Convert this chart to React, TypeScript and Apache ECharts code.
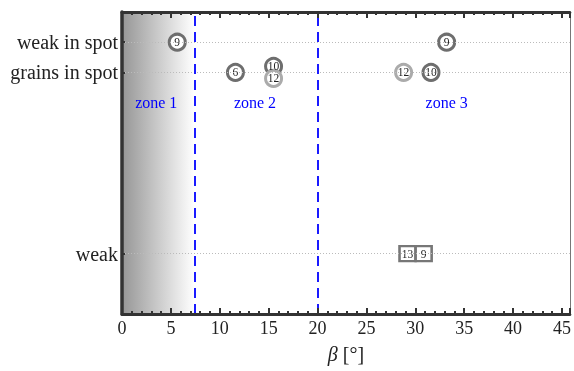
import React, { useEffect, useRef } from "react";
import * as echarts from "echarts";

const xMin = 0;
const xMax = 45.8;
const xInterval = 5;
const yMin = 0;
const yMax = 10;
const yTickValues = [2, 8, 9];
const yTickNames = ["weak", "grains in spot", "weak in spot"];
const zoneBounds = [7.4, 20];
const shadeRange = [0, 7.4];
const darkCircles: [number, number, string][] = [
  [5.65, 9, "9"],
  [11.6, 8, "6"],
  [15.5, 8.2, "10"],
  [31.6, 8, "10"],
  [33.2, 9, "9"],
];
const lightCircles: [number, number, string][] = [
  [15.5, 7.8, "12"],
  [28.8, 8, "12"],
];
const squares: [number, number, string][] = [
  [29.2, 2, "13"],
  [30.85, 2, "9"],
];
const zoneLabels: [number, number, string][] = [
  [3.5, 7, "zone 1"],
  [13.6, 7, "zone 2"],
  [33.2, 7, "zone 3"],
];

const FONT = "'Liberation Serif', 'Times New Roman', serif";

export default function App() {
  const ref = useRef<HTMLDivElement>(null);
  useEffect(() => {
    document.body.style.margin = "0";
    const chart = echarts.init(ref.current!, undefined, { renderer: "svg" });
    const markerLabel = {
      show: true,
      position: "inside",
      color: "#222",
      fontFamily: FONT,
      fontSize: 11.5,
      formatter: (p: any) => p.value[2],
    };
    const xCommon = {
      type: "value",
      min: xMin,
      max: xMax,
      interval: xInterval,
      z: 10,
      splitLine: { show: false },
      axisTick: { show: true, inside: true, length: 6, lineStyle: { color: "#333", width: 2 } },
      minorTick: { show: true, splitNumber: 5, length: 3, lineStyle: { color: "#333", width: 2 } },
      axisLine: { show: true, onZero: false, lineStyle: { color: "#333", width: 3 } },
    };
    chart.setOption({
      animation: false,
      grid: { left: 122, right: 1, top: 12, bottom: 57 },
      xAxis: [
        {
          ...xCommon,
          position: "bottom",
          name: "{i|β} [°]",
          nameLocation: "middle",
          nameGap: 30,
          nameTextStyle: {
            fontFamily: FONT,
            fontSize: 20,
            color: "#222",
            rich: { i: { fontStyle: "italic", fontFamily: FONT, fontSize: 20, color: "#222" } },
          },
          axisLabel: {
            fontFamily: FONT,
            fontSize: 18,
            color: "#222",
            margin: 5,
            showMaxLabel: false,
          },
        },
        {
          ...xCommon,
          position: "top",
          axisLabel: { show: false },
        },
      ],
      yAxis: [
        {
          type: "value",
          min: yMin,
          max: yMax,
          position: "left",
          z: 10,
          splitLine: { show: false },
          axisLine: { show: true, onZero: false, lineStyle: { color: "#333", width: 3.5 } },
          axisTick: {
            show: true,
            inside: true,
            length: 3,
            customValues: yTickValues,
            lineStyle: { color: "#333", width: 2 },
          },
          axisLabel: {
            customValues: yTickValues,
            formatter: (v: number) => yTickNames[yTickValues.indexOf(v)] ?? "",
            fontFamily: FONT,
            fontSize: 20,
            color: "#222",
            margin: 4,
          },
        },
        {
          type: "value",
          min: yMin,
          max: yMax,
          position: "right",
          z: 10,
          splitLine: { show: false },
          axisLine: { show: true, onZero: false, lineStyle: { color: "#777", width: 1 } },
          axisTick: { show: false },
          axisLabel: { show: false },
        },
      ],
      series: [
        {
          type: "scatter",
          data: [],
          silent: true,
          markArea: {
            silent: true,
            itemStyle: {
              color: new echarts.graphic.LinearGradient(0, 0, 1, 0, [
                { offset: 0, color: "#969696" },
                { offset: 1, color: "#ffffff" },
              ]),
            },
            data: [[{ xAxis: shadeRange[0], yAxis: yMin }, { xAxis: shadeRange[1], yAxis: yMax }]],
          },
          markLine: {
            silent: true,
            symbol: "none",
            label: { show: false },
            data: [
              ...yTickValues.map((v) => ({
                yAxis: v,
                lineStyle: { color: "#bbb", width: 1, type: [1, 2] },
              })),
              ...zoneBounds.map((v) => ({
                xAxis: v,
                lineStyle: { color: "#1a1aff", width: 2, type: [10, 6] },
              })),
            ],
          },
        },
        {
          type: "scatter",
          data: zoneLabels,
          symbolSize: 1,
          itemStyle: { color: "rgba(0,0,0,0)", opacity: 1 },
          label: {
            show: true,
            position: "inside",
            color: "#0000ff",
            fontFamily: FONT,
            fontSize: 16,
            formatter: (p: any) => p.value[2],
          },
        },
        {
          type: "scatter",
          data: darkCircles,
          symbol: "circle",
          symbolSize: 16,
          itemStyle: { color: "#fff", borderColor: "#6e6e6e", borderWidth: 3, opacity: 1 },
          label: markerLabel,
        },
        {
          type: "scatter",
          data: lightCircles,
          symbol: "circle",
          symbolSize: 16,
          itemStyle: { color: "#fff", borderColor: "#ababab", borderWidth: 3, opacity: 1 },
          label: markerLabel,
        },
        {
          type: "scatter",
          data: squares,
          symbol: "rect",
          symbolSize: [16, 15],
          itemStyle: { color: "#fff", borderColor: "#777", borderWidth: 2.5, opacity: 1 },
          label: markerLabel,
        },
      ],
    });
    return () => chart.dispose();
  }, []);
  return (
    <div
      ref={ref}
      style={{ position: "fixed", left: 0, top: 0, width: 574, height: 371 }}
    />
  );
}
